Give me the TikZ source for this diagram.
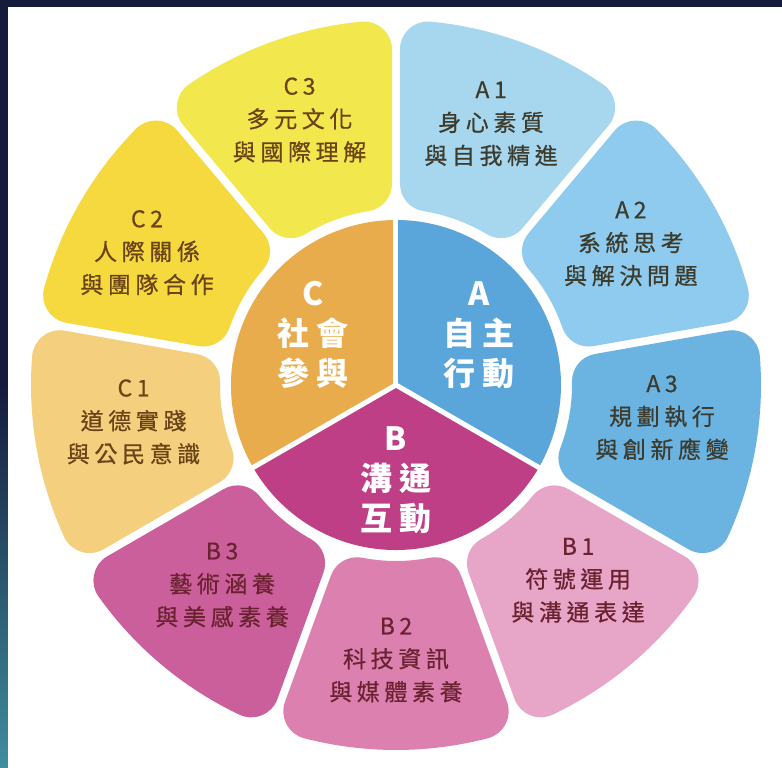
\documentclass[tikz,border=0pt]{standalone}
\usepackage{fontspec}
\usepackage{xcolor}
\newfontfamily\cjk{Noto Sans CJK TC}[LetterSpace=20,FakeBold=0.6]
\newfontfamily\cjkcore{Noto Sans CJK TC}[LetterSpace=20]

\definecolor{skytop}{HTML}{151B3B}
\definecolor{skybot}{HTML}{3F8E9E}
\definecolor{coreA}{HTML}{5AA5DA}
\definecolor{coreB}{HTML}{BF3F86}
\definecolor{coreC}{HTML}{E9AC4C}
\definecolor{petA1}{HTML}{A7D6EF}
\definecolor{petA2}{HTML}{8ECBEE}
\definecolor{petA3}{HTML}{6BB3E1}
\definecolor{petB1}{HTML}{E7A5C7}
\definecolor{petB2}{HTML}{DC80AF}
\definecolor{petB3}{HTML}{CB5F9B}
\definecolor{petC1}{HTML}{F4CF7D}
\definecolor{petC2}{HTML}{F5D93F}
\definecolor{petC3}{HTML}{F2E74C}
\definecolor{txtA}{HTML}{3D3B2C}
\definecolor{txtB}{HTML}{6A2230}
\definecolor{txtC}{HTML}{6A4418}

\begin{document}
\begin{tikzpicture}[x=1pt,y=1pt,
  petal/.style={line width=56pt,line join=round},
  petal label/.style={align=center,font=\cjk\fontsize{23}{33}\selectfont},
  core label/.style={align=center,text=white,font=\cjkcore\bfseries\fontsize{32}{40}\selectfont}]

  \useasboundingbox (-396,-383) rectangle (386,385);
  \fill[top color=skytop,bottom color=skybot,middle color=skytop] (-396,-383) rectangle (386,385);
  \fill[white] (-388,-383) rectangle (386,378);

  % petals: core shape grown by a round stroke
  \foreach \ang/\col in {70/petA1,30/petA2,-10/petA3,-50/petB1,-90/petB2,-130/petB3,-170/petC1,150/petC2,110/petC3}{
    \pgfmathsetmacro\di{asin(32/204)}
    \pgfmathsetmacro\do{asin(32/337)}
    \filldraw[petal,fill=\col,draw=\col]
      ({\ang+20-\do}:337pt) arc[start angle={\ang+20-\do},end angle={\ang-20+\do},radius=337pt]
      -- ({\ang-20+\di}:204pt) arc[start angle={\ang-20+\di},end angle={\ang+20-\di},radius=204pt]
      -- cycle;
  }

  % centre disc
  \fill[coreA] (0,0) -- (90:165pt) arc[start angle=90,end angle=-30,radius=165pt] -- cycle;
  \fill[coreB] (0,0) -- (-30:165pt) arc[start angle=-30,end angle=-150,radius=165pt] -- cycle;
  \fill[coreC] (0,0) -- (210:165pt) arc[start angle=210,end angle=90,radius=165pt] -- cycle;
  \foreach \ang in {90,210,330}
    \draw[white,line width=5pt] (0,0) -- (\ang:170pt);

  \node[core label] (A) at (31:97pt) {A\\自主\\行動};
  \node[core label] (B) at (-90:95pt) {B\\溝通\\互動};
  \node[core label] (C) at (149:97pt) {C\\社會\\參與};

  \node[petal label,text=txtA] (A1) at (70:278pt) {A1\\身心素質\\與自我精進};
  \node[petal label,text=txtA] (A2) at (31:274pt) {A2\\系統思考\\與解決問題};
  \node[petal label,text=txtA] (A3) at (-7:268pt) {A3\\規劃執行\\與創新應變};
  \node[petal label,text=txtB] (B1) at (-47:267pt) {B1\\符號運用\\與溝通表達};
  \node[petal label,text=txtB] (B2) at (-90:275pt) {B2\\科技資訊\\與媒體素養};
  \node[petal label,text=txtB] (B3) at (-131:265pt) {B3\\藝術涵養\\與美感素養};
  \node[petal label,text=txtC] (C1) at (-172:265pt) {C1\\道德實踐\\與公民意識};
  \node[petal label,text=txtC] (C2) at (152:282pt) {C2\\人際關係\\與團隊合作};
  \node[petal label,text=txtC] (C3) at (110:282pt) {C3\\多元文化\\與國際理解};

\end{tikzpicture}
\end{document}
